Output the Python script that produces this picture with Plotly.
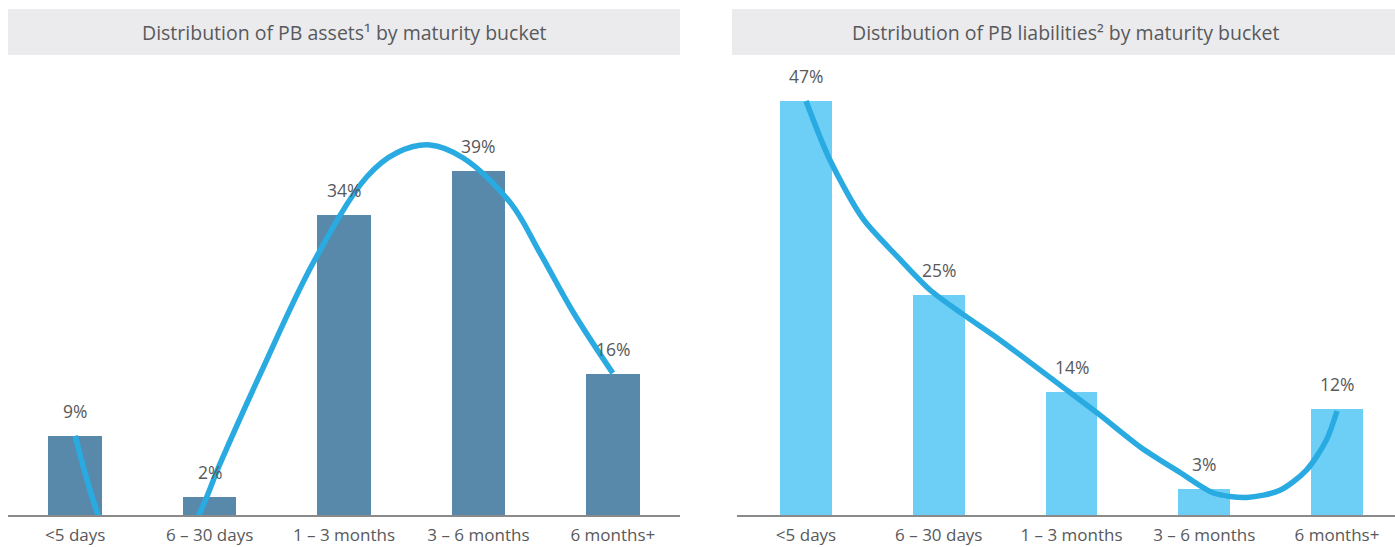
import plotly.graph_objects as go

categories = ["<5 days", "6 – 30 days", "1 – 3 months", "3 – 6 months", "6 months+"]
assets = [9, 2, 34, 39, 16]
liabilities = [47, 25, 14, 3, 12]

# hand-drawn trend curves (category position, percent)
assets_trend_x = [0, 0.17, 0.5, 0.92, 1.08, 1.38, 1.77, 2.17, 2.39, 2.64, 2.89, 3.24, 3.46, 3.71, 4.0]
assets_trend_y = [9, 0, -12, 0, 5.9, 16.1, 28.6, 38.4, 41.1, 42.0, 40.5, 35.4, 29.7, 22.9, 16.1]
liab_trend_x = [0, 0.18, 0.43, 0.69, 0.93, 1.18, 1.44, 1.91, 2.21, 2.52, 2.82, 3.07, 3.32, 3.57, 3.77, 3.92, 4.0]
liab_trend_y = [47, 40.3, 33.6, 29.3, 25.6, 22.8, 20.1, 14.8, 11.4, 7.7, 4.8, 2.5, 2.0, 2.8, 5.1, 8.5, 11.8]

titles = ["Distribution of PB assets¹ by maturity bucket",
          "Distribution of PB liabilities² by maturity bucket"]

W, H = 1395, 547
FONT = "Open Sans"
TXT = "#58595b"
LINE = "#29abe2"

fig = go.Figure()
x_idx = list(range(len(categories)))

fig.add_trace(go.Bar(x=x_idx, y=assets, width=0.40, marker=dict(color="#5889aa", line=dict(width=0)),
                     xaxis="x", yaxis="y", showlegend=False, hoverinfo="skip"))
fig.add_trace(go.Scatter(x=assets_trend_x, y=assets_trend_y, mode="lines",
                         line=dict(color=LINE, width=5.5, shape="spline", smoothing=1.0),
                         xaxis="x", yaxis="y", showlegend=False, hoverinfo="skip"))
fig.add_trace(go.Bar(x=x_idx, y=liabilities, width=0.39, marker=dict(color="#6dcff6", line=dict(width=0)),
                     xaxis="x2", yaxis="y2", showlegend=False, hoverinfo="skip"))
fig.add_trace(go.Scatter(x=liab_trend_x, y=liab_trend_y, mode="lines",
                         line=dict(color=LINE, width=5.5, shape="spline", smoothing=0.8),
                         xaxis="x2", yaxis="y2", showlegend=False, hoverinfo="skip"))

annotations = []
for i, v in enumerate(assets):
    annotations.append(dict(x=i, y=v, xref="x", yref="y", text=f"{v}%", showarrow=False,
                            yshift=25, font=dict(family=FONT, size=17.5, color=TXT)))
for i, v in enumerate(liabilities):
    annotations.append(dict(x=i, y=v, xref="x2", yref="y2", text=f"{v}%", showarrow=False,
                            yshift=25, font=dict(family=FONT, size=17.5, color=TXT)))

# title bands
bands = [(8, 680), (732, 1395)]
shapes = []
for (x0, x1), t in zip(bands, titles):
    shapes.append(dict(type="rect", xref="paper", yref="paper",
                       x0=x0 / W, x1=x1 / W, y0=1 - 55 / H, y1=1 - 9 / H,
                       fillcolor="#ebebed", line=dict(width=0), layer="below"))
    annotations.append(dict(x=(x0 + x1) / 2 / W if x1 < W else (x0 + 1398) / 2 / W,
                            y=1 - 33 / H, xref="paper", yref="paper", text=t,
                            showarrow=False, xanchor="center", yanchor="middle",
                            font=dict(family=FONT, size=19.5, color=TXT)))

ytop = 60
ymax = (515 - ytop) / 8.81
ydom = [(H - 515) / H, (H - ytop) / H]

axis_common = dict(showgrid=False, zeroline=False, showline=True, linecolor="#8a8a8a", linewidth=1.5,
                   tickmode="array", tickvals=x_idx, ticktext=categories, ticks="", automargin=False,
                   tickfont=dict(family=FONT, size=17, color=TXT), ticklabelstandoff=4, fixedrange=True)

fig.update_layout(
    width=W, height=H,
    margin=dict(l=0, r=0, t=0, b=0, autoexpand=False),
    paper_bgcolor="white", plot_bgcolor="white",
    xaxis=dict(domain=[8 / W, 680 / W], range=[-0.5, 4.5], **axis_common),
    yaxis=dict(domain=ydom, range=[0, ymax], visible=False, fixedrange=True, automargin=False),
    xaxis2=dict(domain=[737 / W, 1.0], range=[-0.52, 4.437], **axis_common),
    yaxis2=dict(domain=ydom, range=[0, ymax], visible=False, fixedrange=True, automargin=False),
    annotations=annotations,
    shapes=shapes,
    bargap=0,
)

fig.write_html("out.html")
